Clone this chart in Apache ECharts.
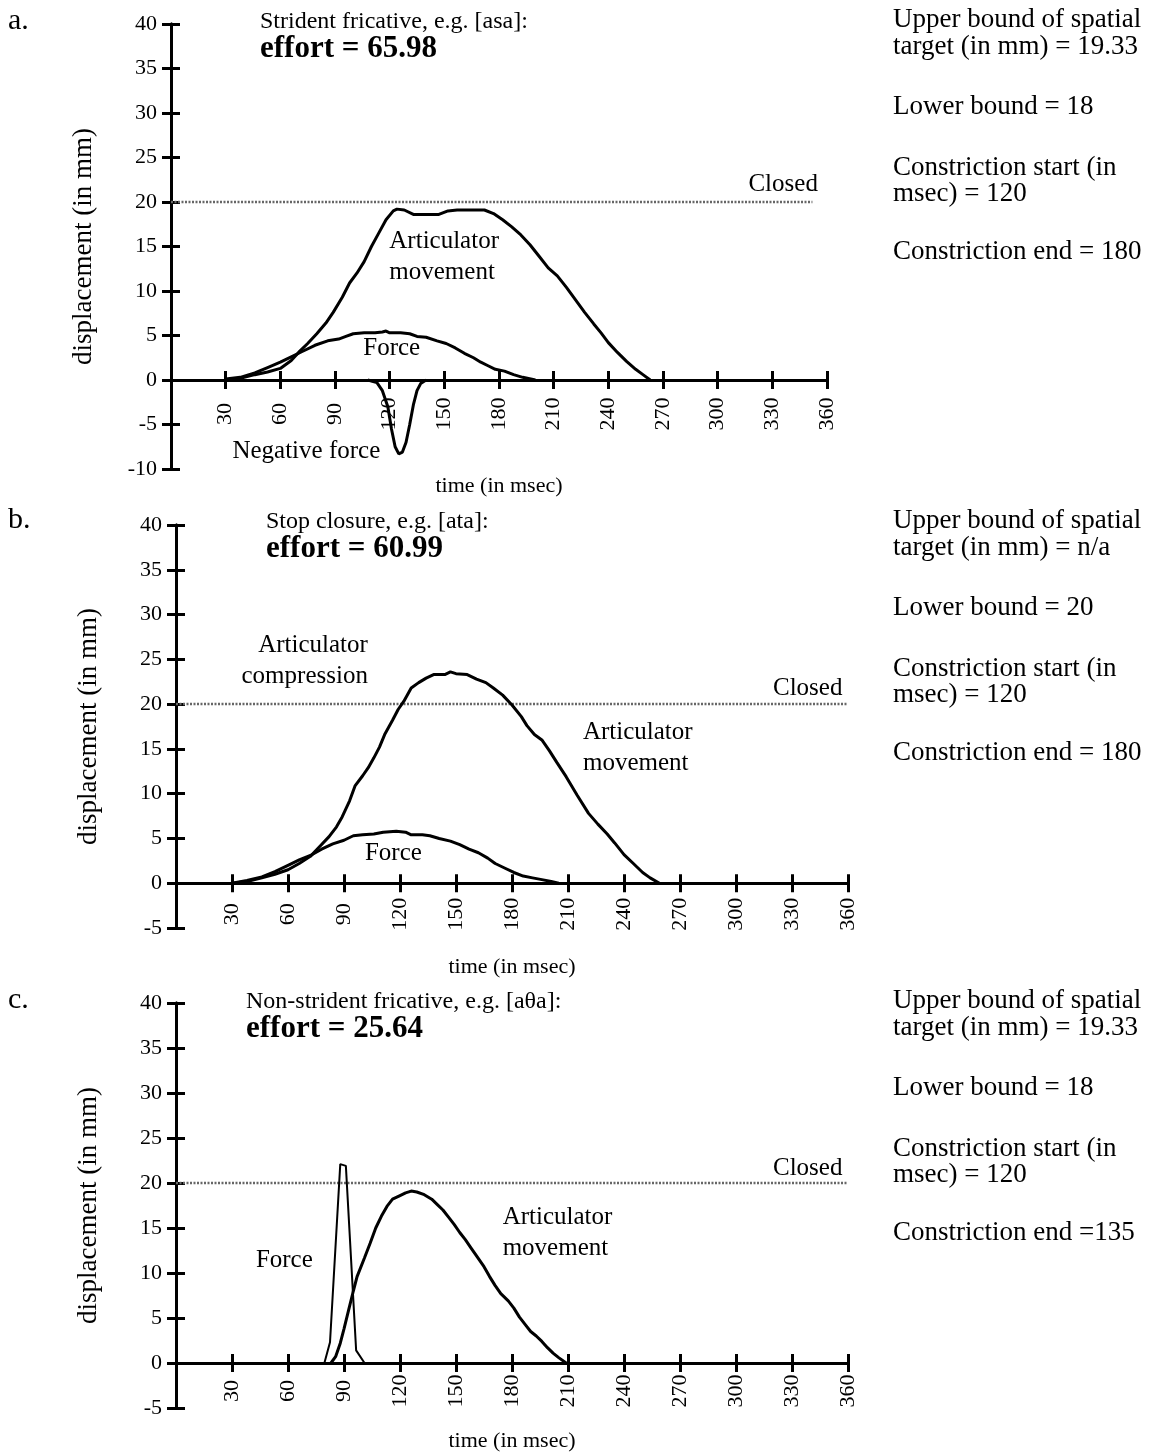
<!DOCTYPE html>
<html>
<head>
<meta charset="utf-8">
<script src="https://cdn.jsdelivr.net/npm/echarts@6/dist/echarts.min.js"></script>
<style>
  html, body { margin: 0; padding: 0; background: #fff; }
  #main { width: 1154px; height: 1455px; }
</style>
</head>
<body>
<div id="main"></div>
<script>
// values: [time in msec, displacement in mm]
const closedLevel = 20;
const closedEnd = [352, 360, 360];

const movementA = [[30,0],[38,0.2],[46,0.6],[53,0.9],[60,1.3],[66,2.2],[70,3.1],[75,4.1],[80,5.2],[85,6.4],[89,7.6],[94,9.3],[98,10.9],[102,12.0],[106,13.3],[110,15.0],[114,16.5],[118,18.0],[122,19.0],[124,19.2],[128,19.1],[133,18.6],[140,18.6],[147,18.6],[152,19.0],[157,19.1],[165,19.1],[172,19.1],[177,18.7],[182,18.0],[187,17.2],[192,16.3],[197,15.2],[202,13.9],[207,12.6],[212,11.7],[217,10.4],[222,9.0],[227,7.6],[232,6.3],[236,5.3],[240,4.2],[245,3.1],[250,2.1],[255,1.2],[259,0.6],[263,0]];
const forceA = [[30,0.1],[38,0.3],[46,0.8],[53,1.4],[60,2.0],[66,2.6],[72,3.2],[79,3.9],[86,4.4],[92,4.6],[96,4.9],[100,5.2],[106,5.3],[112,5.3],[116,5.4],[118,5.5],[120,5.3],[126,5.3],[131,5.2],[135,4.9],[140,4.8],[146,4.4],[151,4.1],[156,3.6],[161,3.0],[166,2.5],[170,2.0],[174,1.6],[178,1.2],[183,1.0],[188,0.6],[193,0.3],[200,0]];
const negForceA = [[108,0],[113,-0.3],[116,-1.2],[119,-3],[121,-5.5],[123,-7.5],[125,-8.3],[127,-8.1],[129,-7],[131,-5],[133,-2.8],[135,-1.2],[137,-0.4],[140,0]];

const movementB = [[30,0],[38,0.2],[46,0.6],[53,1.0],[60,1.5],[66,2.2],[72,3.0],[77,4.1],[82,5.2],[86,6.3],[89,7.4],[93,9.2],[96,10.9],[100,12.0],[103,12.9],[106,14.0],[109,15.2],[112,16.7],[116,18.2],[119,19.4],[122,20.3],[126,21.8],[130,22.4],[134,22.9],[138,23.3],[144,23.3],[147,23.6],[150,23.4],[156,23.3],[161,22.8],[166,22.4],[170,21.8],[175,21.0],[180,19.9],[185,18.6],[188,17.6],[192,16.6],[196,16.0],[200,14.8],[204,13.5],[209,11.9],[215,9.8],[221,7.8],[226,6.6],[231,5.5],[235,4.5],[240,3.2],[245,2.2],[250,1.2],[254,0.6],[259,0]];
const forceB = [[30,0],[38,0.3],[46,0.7],[53,1.3],[60,2.0],[66,2.6],[72,3.1],[78,3.8],[84,4.4],[90,4.8],[95,5.3],[100,5.4],[106,5.5],[111,5.7],[118,5.8],[123,5.7],[126,5.4],[132,5.4],[136,5.3],[141,5.0],[147,4.7],[152,4.3],[157,3.8],[162,3.4],[167,2.8],[171,2.2],[176,1.7],[181,1.2],[186,0.8],[191,0.6],[196,0.4],[201,0.2],[205,0]];

const movementC = [[83,0],[85.5,0.7],[88,2.2],[90,3.8],[92.5,5.9],[95,8.0],[97,9.6],[101,11.7],[104,13.3],[107,15.0],[110,16.3],[113,17.4],[116,18.2],[120,18.6],[123,18.9],[126,19.1],[129,19.0],[133,18.7],[137,18.2],[140,17.6],[143,17.0],[146,16.2],[149,15.4],[152,14.5],[155,13.7],[158,12.8],[161,11.9],[165,10.7],[168,9.6],[171,8.6],[174,7.7],[178,6.9],[181,6.1],[184,5.1],[187,4.3],[190,3.5],[193,3.0],[196,2.4],[199,1.7],[202,1.1],[205,0.6],[209,0]];
const forceC = [[79.5,0],[82.5,2.3],[88,22.1],[91,21.9],[96.5,1.4],[101,0]];

const FONT = '"Liberation Serif", "Times New Roman", serif';
const chart = echarts.init(document.getElementById('main'));

// one grid per panel
const panels = [
  { grid: { left: 171, top: 24, width: 656, height: 445 }, yMin: -10, labelMargin: 34, nameGap: 95 },
  { grid: { left: 176, top: 525, width: 672, height: 403 }, yMin: -5, labelMargin: 31, nameGap: 73 },
  { grid: { left: 176, top: 1003, width: 672, height: 405 }, yMin: -5, labelMargin: 28, nameGap: 67 }
];

const axisLine = { color: '#000', width: 3 };
const grids = [], xAxes = [], yAxes = [];
panels.forEach(function (p, i) {
  grids.push(Object.assign({ outerBoundsMode: 'none', containLabel: false }, p.grid));
  // main x axis: lifted from the grid bottom up to y = 0
  const zeroLift = -(0 - p.yMin) / (40 - p.yMin) * p.grid.height;
  xAxes.push({
    type: 'value', gridIndex: i, min: 0, max: 360, interval: 30, position: 'bottom',
    offset: zeroLift,
    axisLine: { show: true, onZero: false, lineStyle: axisLine },
    axisTick: { show: true, length: 9, lineStyle: axisLine },
    axisLabel: {
      show: true, rotate: 90, align: 'center', verticalAlign: 'middle', margin: p.labelMargin,
      color: '#000', fontFamily: FONT, fontSize: 22,
      formatter: function (v) { return v === 0 ? '' : String(v); }
    },
    splitLine: { show: false },
    name: 'time (in msec)', nameLocation: 'middle', nameGap: p.nameGap, nameMoveOverlap: false,
    nameTextStyle: { color: '#000', fontFamily: FONT, fontSize: 22 }
  });
  // twin x axis on y = 0, only for the upper half of the ticks
  xAxes.push({
    type: 'value', gridIndex: i, min: 0, max: 360, interval: 30, position: 'top',
    axisLine: { show: true, onZero: true, onZeroAxisIndex: 2 * i, lineStyle: axisLine },
    axisTick: { show: true, length: 9, lineStyle: axisLine },
    axisLabel: { show: false }, splitLine: { show: false }
  });
  yAxes.push({
    type: 'value', gridIndex: i, min: p.yMin, max: 40, interval: 5, position: 'left',
    axisLine: { show: true, onZero: false, lineStyle: axisLine },
    axisTick: { show: true, length: 9, lineStyle: axisLine },
    axisLabel: {
      show: true, margin: 14, color: '#000', fontFamily: FONT, fontSize: 22,
      padding: [0, 0, 8, 0]
    },
    splitLine: { show: false },
    name: 'displacement (in mm)', nameLocation: 'middle', nameGap: 74, nameMoveOverlap: false,
    nameTextStyle: { color: '#000', fontFamily: FONT, fontSize: 27 }
  });
  // twin y axis moved onto x = 0, for the right half of the ticks
  yAxes.push({
    type: 'value', gridIndex: i, min: p.yMin, max: 40, interval: 5, position: 'right',
    axisLine: { show: true, onZero: true, onZeroAxisIndex: 2 * i, lineStyle: axisLine },
    axisTick: { show: true, length: 9, lineStyle: axisLine },
    axisLabel: { show: false }, splitLine: { show: false }
  });
});

function curve(data, i, width) {
  return {
    type: 'line', xAxisIndex: 2 * i, yAxisIndex: 2 * i, data: data,
    symbol: 'none', showSymbol: false, silent: true, z: 3,
    lineStyle: { color: '#000', width: width }
  };
}
function closedLine(i) {
  return {
    type: 'line', xAxisIndex: 2 * i, yAxisIndex: 2 * i,
    data: [[0, closedLevel], [closedEnd[i], closedLevel]],
    symbol: 'none', showSymbol: false, silent: true, z: 2,
    lineStyle: { color: '#666', width: 2.5, type: [2, 1.5] }
  };
}

const series = [
  curve(movementA, 0, 3), curve(forceA, 0, 3), curve(negForceA, 0, 3), closedLine(0),
  curve(movementB, 1, 3), curve(forceB, 1, 3), closedLine(1),
  curve(movementC, 2, 3), curve(forceC, 2, 2), closedLine(2)
];
const panelSeries = [0, 4, 7];

chart.setOption({
  animation: false,
  backgroundColor: '#fff',
  grid: grids,
  xAxis: xAxes,
  yAxis: yAxes,
  series: series
});

function txt(x, y, text, size, opts) {
  return {
    type: 'text', x: x, y: y, silent: true,
    style: Object.assign({
      text: text, fill: '#000', align: 'left', verticalAlign: 'middle',
      font: size + 'px ' + FONT
    }, opts || {})
  };
}

const bold = { font: 'bold 31px ' + FONT };
const staticTexts = [
  txt(8, 21, 'a.', 30), txt(8, 520, 'b.', 30), txt(8, 1000, 'c.', 30),
  txt(260, 22, 'Strident fricative, e.g. [asa]:', 24),
  txt(260, 49, 'effort = 65.98', 31, bold),
  txt(266, 522, 'Stop closure, e.g. [ata]:', 24),
  txt(266, 549, 'effort = 60.99', 31, bold),
  txt(246, 1002, 'Non-strident fricative, e.g. [a\u03B8a]:', 24),
  txt(246, 1029, 'effort = 25.64', 31, bold)
];

const sideNotes = [
  ['Upper bound of spatial', 'target (in mm) = 19.33', 'Lower bound = 18', 'Constriction start (in', 'msec) = 120', 'Constriction end = 180'],
  ['Upper bound of spatial', 'target (in mm) = n/a', 'Lower bound = 20', 'Constriction start (in', 'msec) = 120', 'Constriction end = 180'],
  ['Upper bound of spatial', 'target (in mm) = 19.33', 'Lower bound = 18', 'Constriction start (in', 'msec) = 120', 'Constriction end =135']
];
const sideTops = [0, 501, 981];
const sideRows = [20, 47, 107, 168, 194, 252];
sideNotes.forEach(function (lines, i) {
  lines.forEach(function (line, k) {
    staticTexts.push(txt(893, sideTops[i] + sideRows[k], line, 27));
  });
});

// annotations placed in data coordinates
const notes = [
  { panel: 0, at: [355, 22.0], text: 'Closed', align: 'right' },
  { panel: 0, at: [119.8, 13.8], text: 'Articulator\nmovement', align: 'left' },
  { panel: 0, at: [105.5, 3.6], text: 'Force', align: 'left' },
  { panel: 0, at: [33.7, -8.0], text: 'Negative force', align: 'left' },
  { panel: 1, at: [357, 21.8], text: 'Closed', align: 'right' },
  { panel: 1, at: [102.8, 24.8], text: 'Articulator\ncompression', align: 'right' },
  { panel: 1, at: [218, 15.1], text: 'Articulator\nmovement', align: 'left' },
  { panel: 1, at: [101.2, 3.35], text: 'Force', align: 'left' },
  { panel: 2, at: [357, 21.6], text: 'Closed', align: 'right' },
  { panel: 2, at: [42.8, 11.4], text: 'Force', align: 'left' },
  { panel: 2, at: [175, 14.4], text: 'Articulator\nmovement', align: 'left' }
];
const noteTexts = notes.map(function (n) {
  const p = chart.convertToPixel({ seriesIndex: panelSeries[n.panel] }, n.at);
  return txt(p[0], p[1], n.text, 25, { align: n.align, lineHeight: 31 });
});

chart.setOption({ graphic: staticTexts.concat(noteTexts) });
</script>
</body>
</html>
